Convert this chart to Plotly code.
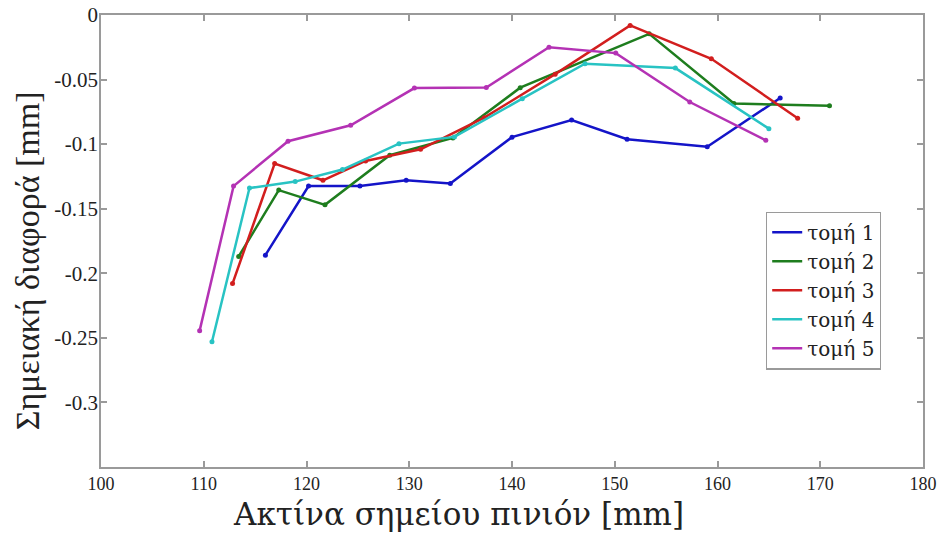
import plotly.graph_objects as go

names = ["τομή 1", "τομή 2", "τομή 3", "τομή 4", "τομή 5"]
colors = ["#1414c8", "#1e7d1e", "#d21e1e", "#28c3c3", "#b432b4"]

x1 = [116.0, 120.2, 125.2, 129.7, 134.0, 140.0, 145.8, 151.2, 159.0, 166.1]
y1 = [-0.186, -0.1325, -0.1325, -0.128, -0.1305, -0.0946, -0.0813, -0.0962, -0.102, -0.0643]

x2 = [113.4, 117.3, 121.8, 128.1, 134.25, 140.8, 153.35, 161.6, 170.9]
y2 = [-0.187, -0.1356, -0.147, -0.1086, -0.0952, -0.0563, -0.0146, -0.0686, -0.0702]

x3 = [112.8, 116.9, 121.6, 125.75, 131.1, 137.3, 144.2, 151.5, 159.4, 167.8]
y3 = [-0.208, -0.115, -0.128, -0.113, -0.104, -0.0795, -0.0458, -0.0081, -0.0339, -0.080]

x4 = [110.8, 114.45, 118.9, 123.5, 129.0, 134.4, 141.0, 147.1, 155.9, 165.0]
y4 = [-0.253, -0.134, -0.129, -0.1197, -0.0996, -0.0944, -0.0648, -0.0377, -0.0411, -0.088]

x5 = [109.6, 112.9, 118.2, 124.3, 130.5, 137.5, 143.6, 150.1, 157.3, 164.7]
y5 = [-0.2444, -0.1325, -0.0977, -0.0854, -0.0566, -0.0561, -0.0249, -0.0295, -0.0674, -0.097]

xs = [x1, x2, x3, x4, x5]
ys = [y1, y2, y3, y4, y5]

x_ticks = [100, 110, 120, 130, 140, 150, 160, 170, 180]
y_ticks = [0, -0.05, -0.1, -0.15, -0.2, -0.25, -0.3]
y_tick_text = ["0", "-0.05", "-0.1", "-0.15", "-0.2", "-0.25", "-0.3"]

fig = go.Figure()
for n, c, x, y in zip(names, colors, xs, ys):
    fig.add_trace(go.Scatter(
        x=x, y=y, name=n, mode="lines",
        line=dict(color=c, width=2.5),
    ))
    fig.add_trace(go.Scatter(
        x=x, y=y, name=n, mode="markers", showlegend=False,
        marker=dict(color=c, size=5),
    ))

serif = "Liberation Serif"
axis_common = dict(
    showline=True, linecolor="#9a9a9a", linewidth=1.5, mirror="ticks",
    ticks="inside", ticklen=6, tickcolor="#9a9a9a", tickwidth=1.5,
    showgrid=False, zeroline=False, automargin=False,
    ticklabeloverflow="allow",
)

fig.update_xaxes(range=[100, 180], tickvals=x_ticks,
                 tickfont=dict(family=serif, size=18, color="#222"), **axis_common)
fig.update_yaxes(range=[-0.35, 0], tickvals=y_ticks, ticktext=y_tick_text,
                 ticklabelstandoff=-3,
                 tickfont=dict(family=serif, size=21, color="#222"), **axis_common)

fig.add_annotation(text="Ακτίνα σημείου πινιόν [mm]", xref="paper", yref="paper",
                   x=0.435, y=-0.104, xanchor="center", yanchor="middle", showarrow=False,
                   font=dict(family="DejaVu Serif", size=31, color="#222"))
fig.add_annotation(text="Σημειακή διαφορά [mm]", xref="paper", yref="paper",
                   x=-0.09, y=0.455, xanchor="center", yanchor="middle", showarrow=False,
                   textangle=-90, font=dict(family=serif, size=34, color="#222"))

fig.update_layout(
    width=940, height=534,
    margin=dict(l=101, r=17, t=15, b=67),
    plot_bgcolor="white", paper_bgcolor="white",
    legend=dict(x=0.809, y=0.565, xanchor="left", yanchor="top",
                bordercolor="#9a9a9a", borderwidth=1.2, bgcolor="white",
                font=dict(family="DejaVu Serif", size=20, color="#222"),
                tracegroupgap=0, itemwidth=30),
    showlegend=True,
)

# remove the default page margin so the figure fills the 940x534 window exactly
fig.write_html("out.html",
               config={"displayModeBar": False},
               post_script="document.body.style.margin='0';document.body.style.overflow='hidden';")
